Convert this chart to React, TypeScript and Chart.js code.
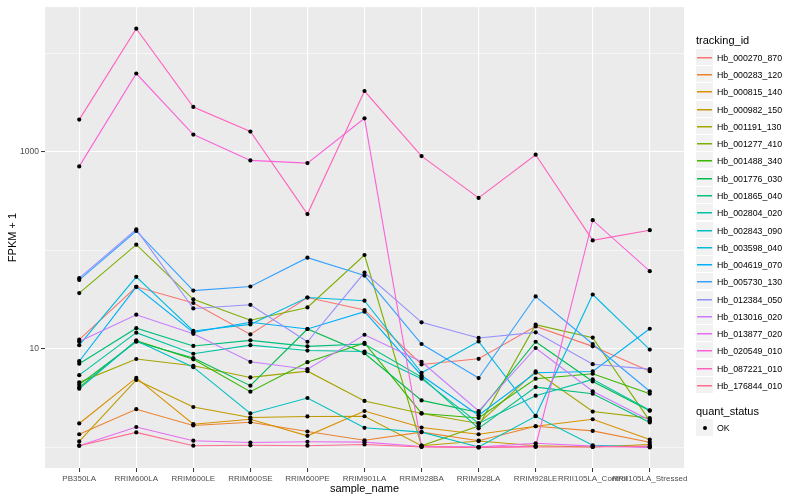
import React, { useEffect, useRef } from "react";
import { Chart, registerables } from "chart.js";

Chart.register(...registerables);

const samples = [
  "PB350LA",
  "RRIM600LA",
  "RRIM600LE",
  "RRIM600SE",
  "RRIM600PE",
  "RRIM901LA",
  "RRIM928BA",
  "RRIM928LA",
  "RRIM928LE",
  "RRII105LA_Control",
  "RRII105LA_Stressed",
];

const trackingIds = [
  "Hb_000270_870",
  "Hb_000283_120",
  "Hb_000815_140",
  "Hb_000982_150",
  "Hb_001191_130",
  "Hb_001277_410",
  "Hb_001488_340",
  "Hb_001776_030",
  "Hb_001865_040",
  "Hb_002804_020",
  "Hb_002843_090",
  "Hb_003598_040",
  "Hb_004619_070",
  "Hb_005730_130",
  "Hb_012384_050",
  "Hb_013016_020",
  "Hb_013877_020",
  "Hb_020549_010",
  "Hb_087221_010",
  "Hb_176844_010",
];

const seriesColors = [
  "#F8766D", "#EA8331", "#D89000", "#C09B00", "#A3A500",
  "#7CAE00", "#39B600", "#00BB4E", "#00BF7D", "#00C1A3",
  "#00BFC4", "#00BAE0", "#00B0F6", "#35A2FF", "#9590FF",
  "#C77CFF", "#E76BF3", "#FA62DB", "#FF62BC", "#FF6C91",
];

// FPKM + 1 per sample (same order as `samples`)
const hb000270_870 = [12.4, 42.6, 29.2, 14.0, 33.2, 24.8, 6.94, 7.93, 16.9, 10.6, 5.94];
const hb000283_120 = [1.36, 2.44, 1.67, 1.8, 1.45, 1.18, 1.43, 1.17, 1.64, 1.47, 1.13];
const hb000815_140 = [1.75, 5.07, 1.72, 1.93, 1.31, 2.34, 1.59, 1.36, 1.64, 1.93, 1.2];
const hb000982_150 = [1.15, 4.84, 2.57, 2.01, 2.06, 2.07, 1.04, 1.16, 1.04, 1.01, 1.07];
const hb001191_130 = [4.57, 7.89, 6.73, 5.13, 5.94, 2.96, 2.21, 1.75, 5.9, 2.31, 1.98];
const hb001277_410 = [36.8, 114, 31.8, 19.5, 26.3, 89.6, 1.04, 1.65, 17.6, 13.0, 1.86];
const hb001488_340 = [4.07, 12.1, 7.83, 3.68, 7.32, 11.5, 2.21, 1.99, 4.98, 5.59, 3.51];
const hb001776_030 = [4.33, 11.8, 8.07, 4.23, 15.9, 9.03, 3.0, 2.26, 11.8, 4.67, 2.36];
const hb001865_040 = [7.06, 16.2, 10.7, 12.2, 10.6, 11.2, 5.17, 1.56, 4.09, 3.51, 1.79];
const hb002804_020 = [5.41, 14.6, 8.92, 10.9, 9.61, 9.39, 4.98, 1.75, 3.35, 4.9, 2.38];
const hb002843_090 = [3.94, 12.1, 6.52, 2.21, 3.17, 1.58, 1.43, 1.01, 2.07, 1.05, 1.01];
const hb003598_040 = [10.9, 53.8, 15.2, 17.7, 33.2, 30.8, 5.72, 11.9, 2.09, 35.6, 9.84];
const hb004619_070 = [7.49, 42.6, 14.7, 18.6, 15.9, 23.8, 5.37, 2.12, 5.72, 5.9, 16.0];
const hb005730_130 = [50.1, 157, 39.0, 42.9, 84.2, 55.4, 11.2, 5.05, 34.0, 11.2, 3.71];
const hb012384_050 = [52.1, 163, 25.7, 28.0, 11.8, 59.4, 18.6, 12.9, 14.7, 6.99, 6.22];
const hb013016_020 = [11.9, 22.2, 14.2, 7.39, 6.22, 13.9, 7.39, 2.34, 10.2, 3.71, 1.89];
const hb013877_020 = [1.04, 1.61, 1.17, 1.12, 1.14, 1.13, 1.02, 1.01, 1.1, 1.03, 1.0];
const hb020549_010 = [710, 6221, 1495, 817, 767, 2185, 1.02, 1.0, 1.03, 202, 61.4];
const hb087221_010 = [2120, 17725, 2848, 1604, 233, 4133, 903, 340, 933, 126, 160];
const hb176844_010 = [1.04, 1.42, 1.04, 1.05, 1.04, 1.07, 1.01, 1.0, 1.01, 1.01, 1.03];

const seriesValues = [
  hb000270_870, hb000283_120, hb000815_140, hb000982_150, hb001191_130,
  hb001277_410, hb001488_340, hb001776_030, hb001865_040, hb002804_020,
  hb002843_090, hb003598_040, hb004619_070, hb005730_130, hb012384_050,
  hb013016_020, hb013877_020, hb020549_010, hb087221_010, hb176844_010,
];

const yTickValues = [1, 10, 100, 1000, 10000];
const yTickLabels = ["", "10", "", "1000", ""];
const quantStatus = ["OK"];

const FONT = "'Liberation Sans', Arial, Helvetica, sans-serif";

const panelBg = {
  id: "panelBg",
  beforeDraw(chart: any) {
    const { ctx, chartArea: a } = chart;
    ctx.save();
    ctx.fillStyle = "#EBEBEB";
    ctx.fillRect(a.left, a.top, a.right - a.left, a.bottom - a.top);
    ctx.restore();
  },
};

export default function App() {
  const ref = useRef<HTMLCanvasElement>(null);

  useEffect(() => {
    const datasets: any[] = trackingIds.map((id, i) => ({
      type: "line",
      label: id,
      data: seriesValues[i].map((v, j) => ({ x: j, y: v })),
      borderColor: seriesColors[i],
      backgroundColor: seriesColors[i],
      borderWidth: 1.1,
      pointRadius: 0,
      pointHoverRadius: 0,
      tension: 0,
      fill: false,
      order: trackingIds.length - i,
    }));
    datasets.push({
      type: "scatter",
      label: quantStatus[0],
      data: seriesValues.flatMap((vals) => vals.map((v, j) => ({ x: j, y: v }))),
      pointRadius: 2.1,
      pointHoverRadius: 2.1,
      pointBackgroundColor: "#000000",
      pointBorderWidth: 0,
      showLine: false,
      order: 0,
    });

    const chart = new Chart(ref.current as HTMLCanvasElement, {
      type: "line",
      data: { datasets },
      options: {
        animation: false,
        responsive: false,
        events: [],
        layout: { padding: { left: 0, right: 116, top: 5, bottom: 0 } },
        plugins: { legend: { display: false }, tooltip: { enabled: false } },
        scales: {
          x: {
            type: "linear",
            min: -0.6,
            max: 10.6,
            afterBuildTicks: (s: any) => {
              s.ticks = samples.map((_, i) => ({ value: i }));
            },
            afterFit: (s: any) => {
              s.height = 32;
            },
            ticks: {
              autoSkip: false,
              maxRotation: 0,
              minRotation: 0,
              padding: 2,
              color: "#4D4D4D",
              font: { family: FONT, size: 8 },
              callback: (v: any) => samples[v] ?? "",
            },
            grid: {
              color: "#FFFFFF",
              lineWidth: 1.1,
              tickColor: "#333333",
              tickLength: 4,
              tickWidth: 1,
            },
            border: { display: false },
            title: {
              display: true,
              text: "sample_name",
              color: "#000000",
              font: { family: FONT, size: 11 },
              padding: { top: 0, bottom: 4.8 },
            },
          },
          y: {
            type: "logarithmic",
            min: 0.618,
            max: 29360,
            bounds: "data",
            afterBuildTicks: (s: any) => {
              s.ticks = yTickValues.map((v) => ({ value: v }));
            },
            afterFit: (s: any) => {
              s.width = 45;
            },
            ticks: {
              autoSkip: false,
              padding: 2,
              color: "#4D4D4D",
              font: { family: FONT, size: 8.5 },
              callback: (_v: any, i: number) => yTickLabels[i],
            },
            grid: {
              color: "#FFFFFF",
              lineWidth: (ctx: any) => (yTickLabels[ctx.index] ? 1.1 : 0.55),
              tickColor: (ctx: any) => (yTickLabels[ctx.index] ? "#333333" : "rgba(0,0,0,0)"),
              tickLength: 4,
              tickWidth: 1,
            },
            border: { display: false },
            title: {
              display: true,
              text: "FPKM + 1",
              color: "#000000",
              font: { family: FONT, size: 11 },
              padding: { top: 6, bottom: 0 },
            },
          },
        },
      } as any,
      plugins: [panelBg],
    });
    return () => chart.destroy();
  }, []);

  const keySize = 17.28;
  const firstTop = 48.7;

  return (
    <div
      style={{
        position: "absolute",
        left: 0,
        top: 0,
        width: 800,
        height: 500,
        background: "#FFFFFF",
        fontFamily: FONT,
        overflow: "hidden",
      }}
    >
      <canvas
        ref={ref}
        width={800}
        height={500}
        style={{ position: "absolute", left: 0, top: 0, width: 800, height: 500 }}
      />
      <div
        style={{
          position: "absolute",
          left: 696,
          top: 33,
          fontSize: 11,
          lineHeight: "15px",
          color: "#000",
          whiteSpace: "nowrap",
        }}
      >
        tracking_id
      </div>
      {trackingIds.map((id, i) => {
        const top = Math.round(firstTop + keySize * i);
        return (
          <div
            key={id}
            style={{
              position: "absolute",
              left: 696,
              top,
              height: 17,
              display: "flex",
              alignItems: "center",
            }}
          >
            <div
              style={{
                width: 17,
                height: 17,
                background: "#F2F2F2",
                boxSizing: "border-box",
                borderBottom: "1px solid #FFFFFF",
                position: "relative",
              }}
            >
              <div
                style={{
                  position: "absolute",
                  left: 1,
                  right: 1,
                  top: 8,
                  height: 1,
                  background: seriesColors[i],
                  boxShadow: `0 0.5px 0 ${seriesColors[i]}`,
                }}
              />
            </div>
            <span style={{ marginLeft: 4, fontSize: 8.8, color: "#000", whiteSpace: "nowrap" }}>{id}</span>
          </div>
        );
      })}
      <div
        style={{
          position: "absolute",
          left: 696,
          top: 404,
          fontSize: 11,
          lineHeight: "15px",
          color: "#000",
          whiteSpace: "nowrap",
        }}
      >
        quant_status
      </div>
      {quantStatus.map((s, i) => (
        <div
          key={s}
          style={{
            position: "absolute",
            left: 696,
            top: 419 + 17 * i,
            height: 17,
            display: "flex",
            alignItems: "center",
          }}
        >
          <div
            style={{
              width: 17,
              height: 17,
              background: "#F2F2F2",
              position: "relative",
            }}
          >
            <div
              style={{
                position: "absolute",
                left: 6.5,
                top: 6.5,
                width: 4,
                height: 4,
                borderRadius: "50%",
                background: "#000",
              }}
            />
          </div>
          <span style={{ marginLeft: 4, fontSize: 8.8, color: "#000", whiteSpace: "nowrap" }}>{s}</span>
        </div>
      ))}
    </div>
  );
}
